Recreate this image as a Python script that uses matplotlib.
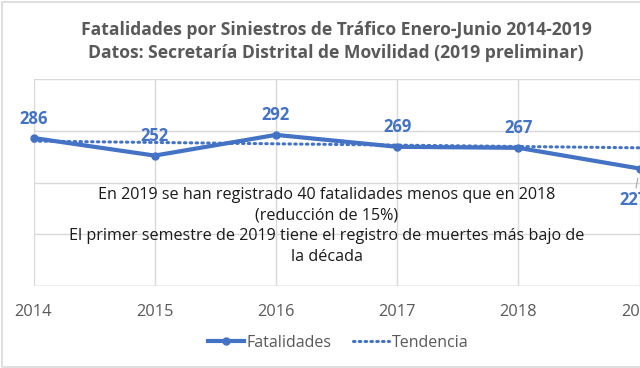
import matplotlib
matplotlib.use("Agg")
import matplotlib.pyplot as plt
from matplotlib.lines import Line2D

years = [2014, 2015, 2016, 2017, 2018, 2019]
fatalidades = [286, 252, 292, 269, 267, 227]
trend_years = [2014, 2019]
trend_values = [280, 267]
y_ticks = [0, 100, 200, 300, 400]

title = "Fatalidades por Siniestros de Tráfico Enero-Junio 2014-2019\nDatos: Secretaría Distrital de Movilidad (2019 preliminar)"
note = ("En 2019 se han registrado 40 fatalidades menos que en 2018\n"
        "(reducción de 15%)\n"
        "El primer semestre de 2019 tiene el registro de muertes más bajo de\n"
        "la década")

blue = "#4472C4"
gray = "#595959"
grid = "#D9D9D9"

plt.rcParams['font.family'] = ['Open Sans', 'DejaVu Sans']

fig = plt.figure(figsize=(6.4, 3.68), dpi=100)
W, H = 640, 368
ax = fig.add_axes([33.5 / W, (H - 286) / H, 606 / W, 207 / H])
ax.set_xlim(2014, 2019)
ax.set_ylim(0, 400)
ax.set_yticks(y_ticks)
ax.set_xticks(years)
ax.set_xticklabels([str(y) for y in years], color=gray, fontsize=11.8)
ax.tick_params(axis='x', length=0, pad=13)
ax.tick_params(axis='y', length=0, labelleft=False)
ax.grid(True, color=grid, linewidth=1)
for s in ax.spines.values():
    s.set_visible(False)
ax.axhline(0, color="#BFBFBF", linewidth=1, zorder=1)

ax.plot(years, fatalidades, color=blue, linewidth=3, marker='o', markersize=5,
        solid_capstyle='round', zorder=3, clip_on=False)
ax.plot(trend_years, trend_values, color=blue, linewidth=2.2, linestyle=(0, (0.5, 1.4)),
        dash_capstyle='round', zorder=2, clip_on=False)

for i, (x, v) in enumerate(zip(years, fatalidades)):
    if i == len(years) - 1:
        ax.annotate(str(v), xy=(x, v), xytext=(-4, -22.5), textcoords='offset points',
                    ha='center', va='center', color=blue, fontsize=12, fontweight='bold',
                    annotation_clip=False,
                    arrowprops=dict(arrowstyle='-', color='#A6A6A6', lw=0.8, shrinkA=0, shrinkB=7))
    else:
        ax.annotate(str(v), xy=(x, v), xytext=(0, 14), textcoords='offset points',
                    ha='center', va='center', color=blue, fontsize=12, fontweight='bold',
                    annotation_clip=False)

fig.text(336 / W, 1 - 41.5 / H, title, ha='center', va='center', color=gray,
         fontsize=12.6, fontweight='bold', linespacing=1.3)

fig.text(327 / W, 1 - 226 / H, note, ha='center', va='center', color='#1a1a1a',
         fontsize=11.6, linespacing=1.38)

handles = [Line2D([0], [0], color=blue, linewidth=3, marker='o', markersize=5),
           Line2D([0], [0], color=blue, linewidth=2.2, linestyle=(0, (0.5, 1.4)), dash_capstyle='round')]
fig.legend(handles, ["Fatalidades", "Tendencia"], loc='center', bbox_to_anchor=(338 / W, 1 - 343 / H),
           ncol=2, frameon=False, fontsize=11.5, labelcolor=gray, handlelength=2.3,
           handletextpad=0.15, columnspacing=1.3)

fig.patches.append(plt.Rectangle((1.5 / W, 1.5 / H), 1 - 1.5 / W + 0.01, 1 - 3 / H,
                                 transform=fig.transFigure, fill=False, edgecolor='#D9D9D9',
                                 linewidth=1.2))

fig.savefig("out.png", dpi=100)
